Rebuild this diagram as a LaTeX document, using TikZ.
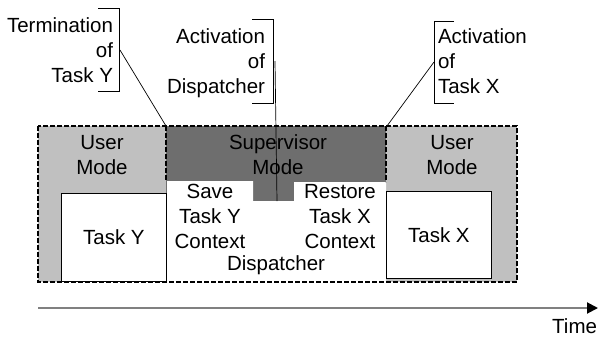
\documentclass[tikz,border=0pt]{standalone}
\usepackage{fontspec}
\setmainfont{Liberation Sans}
\usetikzlibrary{arrows.meta}
\definecolor{usergray}{HTML}{C0C0C0}
\definecolor{supergray}{HTML}{6E6E6E}
\definecolor{axisgray}{HTML}{808080}
\begin{document}
\begin{tikzpicture}[x=1pt,y=-1pt,
  lbl/.style={font=\fontsize{20.5}{25}\selectfont, inner sep=0pt, outer sep=0pt},
  modeborder/.style={draw=black, line width=1.8pt, dash pattern=on 5pt off 2pt},
  taskbox/.style={draw=black, line width=0.8pt, fill=white},
  bracket/.style={draw=black, line width=0.7pt},
  callout/.style={draw=black, line width=0.7pt}]
\useasboundingbox (0,0) rectangle (600,338);

% mode regions
\fill[usergray] (38,126) rectangle (517,282);
\fill[supergray] (166,126) rectangle (386,282);

% dispatcher area with its notch
\fill[white] (167,181) -- (253,181) -- (253,201) -- (294,201) -- (294,182)
  -- (386,182) -- (386,282) -- (167,282) -- cycle;

% tasks
\node[taskbox, minimum width=105pt, minimum height=88pt, anchor=north west] (tasky) at (61,193) {};
\node[taskbox, minimum width=105pt, minimum height=87pt, anchor=north west] (taskx) at (386,191) {};
\node[lbl] at (tasky.center) {Task Y};
\node[lbl] at (taskx.center) {Task X};

% mode borders
\coordinate (bl) at (38,126);
\coordinate (br) at (517,282);
\coordinate (sw) at (166,126);
\coordinate (swb) at (166,181);
\coordinate (se) at (386,126);
\coordinate (seb) at (386,182);
\draw[modeborder] (bl) rectangle (br);
\draw[modeborder] (sw) -- (swb);
\draw[modeborder] (se) -- (seb);

% mode labels
\node[lbl, align=center, anchor=north] (userl) at (102,135) {User\\Mode};
\node[lbl, align=center, anchor=north] (super) at (278,135) {Supervisor\\Mode};
\node[lbl, align=center, anchor=north] (userr) at (452,135) {User\\Mode};

% dispatcher labels
\node[lbl, align=center, anchor=north] (save) at (210,184) {Save\\Task Y\\Context};
\node[lbl, align=center, anchor=north] (restore) at (340,184) {Restore\\Task X\\Context};
\node[lbl, anchor=base] (disp) at (276,270) {Dispatcher};

% event callouts
\node[lbl, align=right, anchor=north east] (termy) at (113,17.5) {Termination\\of\\Task Y};
\node[lbl, align=right, anchor=north east] (actd) at (265,28.5) {Activation\\of\\Dispatcher};
\node[lbl, align=left, anchor=north west] (actx) at (438,28.5) {Activation\\of\\Task X};

\draw[bracket] (98,8) -- (119,8) -- (119,91) -- (98,91);
\draw[bracket] (252,19) -- (273,19) -- (273,103) -- (252,103);
\draw[bracket] (454,21) -- (434,21) -- (434,103) -- (454,103);

\coordinate (ty) at (120,50);
\coordinate (ad) at (275,61);
\coordinate (adend) at (277,201);
\coordinate (ax) at (434,62);
\draw[callout] (ty) -- (sw);
\draw[callout] (ad) -- (adend);
\draw[callout] (ax) -- (387,126);

% time axis
\coordinate (t0) at (38,308);
\coordinate (t1) at (598,308);
\draw[axisgray, line width=2pt, -{Triangle[color=black, length=11pt, width=11pt]}] (t0) -- (t1);
\node[lbl, anchor=base east] (time) at (597,333) {Time};
\end{tikzpicture}
\end{document}
